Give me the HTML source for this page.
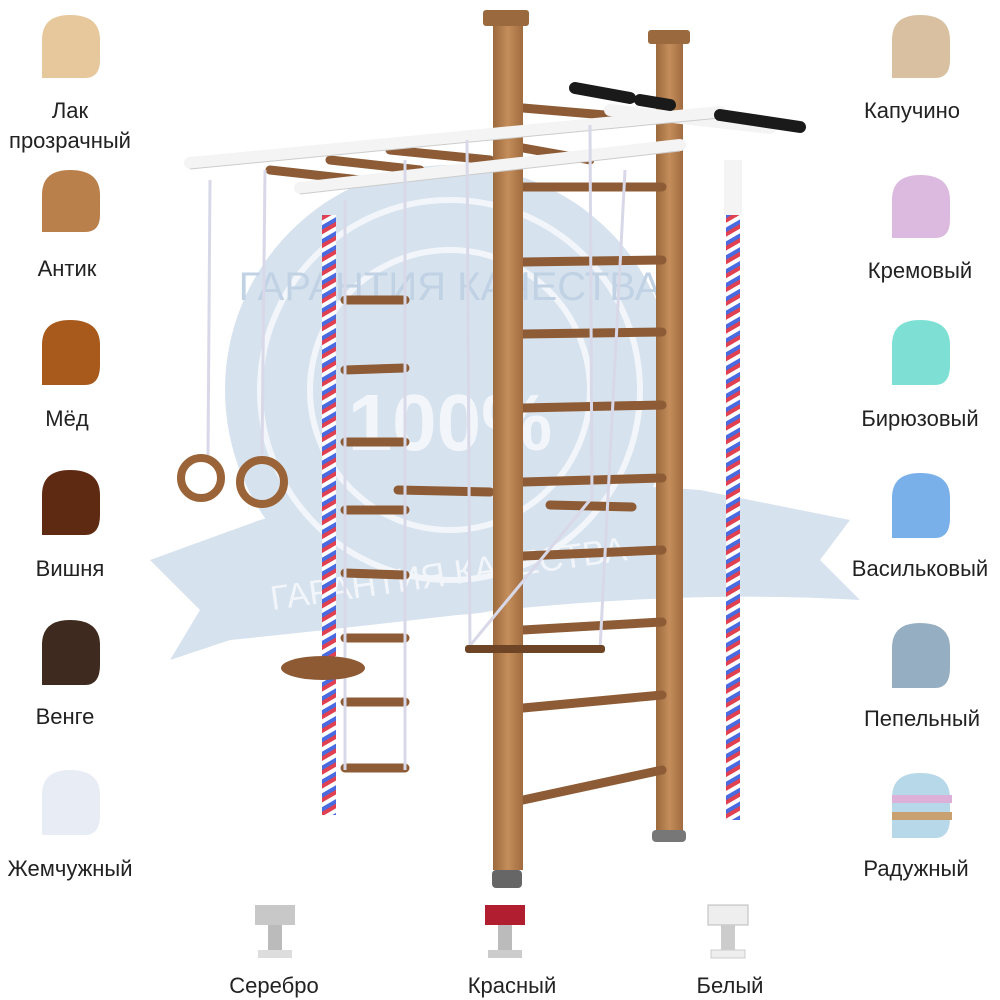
<!DOCTYPE html>
<html><head><meta charset="utf-8"><style>
body{margin:0;width:1000px;height:1000px;background:#fff;overflow:hidden;font-family:"Liberation Sans",sans-serif}
svg{position:absolute;left:0;top:0}
text{font-family:"Liberation Sans","DejaVu Sans",sans-serif;font-size:22px;fill:#222;text-anchor:middle}
</style></head><body>
<svg width="1000" height="1000" viewBox="0 0 1000 1000">
<defs>
<linearGradient id="wood" x1="0" x2="1"><stop offset="0" stop-color="#9c6a3e"/><stop offset=".5" stop-color="#c48d5a"/><stop offset="1" stop-color="#a06c40"/></linearGradient>
<pattern id="rope" width="8" height="12" patternUnits="userSpaceOnUse" patternTransform="rotate(-30)"><rect width="8" height="4" fill="#e04050"/><rect y="4" width="8" height="4" fill="#fff"/><rect y="8" width="8" height="4" fill="#4a6be0"/></pattern>
</defs>
<!-- watermark -->
<g fill="#d6e2ee">
<circle cx="450" cy="390" r="225"/>
<path d="M150 560 L260 520 Q450 470 700 490 L850 520 L820 560 L860 600 Q700 590 500 610 Q330 630 230 640 L170 660 L200 610 Z"/>
</g>
<g fill="none" stroke="#f2f6fa" stroke-width="6"><circle cx="450" cy="390" r="190"/><circle cx="450" cy="390" r="140"/></g>
<text x="450" y="450" style="font-size:80px;font-weight:bold;fill:#f2f6fa">100%</text>
<text x="450" y="300" style="font-size:40px;fill:#c0d2e4">ГАРАНТИЯ КАЧЕСТВА</text>
<text x="450" y="585" style="font-size:34px;fill:#f2f6fa" transform="rotate(-8 450 585)">ГАРАНТИЯ КАЧЕСТВА</text>

<!-- back post -->
<rect x="656" y="38" width="27" height="800" fill="url(#wood)"/>
<rect x="648" y="30" width="42" height="14" rx="3" fill="#9a6a3e"/>
<rect x="652" y="830" width="34" height="12" rx="4" fill="#777"/>
<!-- rungs -->
<g stroke="#8d5c36" stroke-width="9" stroke-linecap="round">
<line x1="523" y1="187" x2="662" y2="187"/><line x1="523" y1="262" x2="662" y2="260"/><line x1="523" y1="334" x2="662" y2="332"/><line x1="523" y1="408" x2="662" y2="405"/><line x1="523" y1="482" x2="662" y2="478"/><line x1="523" y1="556" x2="662" y2="550"/><line x1="523" y1="630" x2="662" y2="622"/><line x1="523" y1="708" x2="662" y2="695"/><line x1="523" y1="800" x2="662" y2="770"/>
<line x1="523" y1="108" x2="640" y2="118"/><line x1="523" y1="148" x2="590" y2="160"/>
<line x1="270" y1="170" x2="360" y2="180"/><line x1="330" y1="160" x2="420" y2="170"/><line x1="390" y1="150" x2="490" y2="160"/>
<line x1="345" y1="300" x2="405" y2="300"/><line x1="345" y1="370" x2="405" y2="368"/><line x1="345" y1="442" x2="405" y2="442"/><line x1="345" y1="510" x2="405" y2="510"/><line x1="345" y1="573" x2="405" y2="575"/><line x1="345" y1="638" x2="405" y2="638"/><line x1="345" y1="702" x2="405" y2="702"/><line x1="345" y1="768" x2="405" y2="768"/>
<line x1="398" y1="490" x2="490" y2="492"/><line x1="550" y1="505" x2="632" y2="507"/>
</g>
<!-- front post -->
<rect x="493" y="20" width="30" height="850" fill="url(#wood)"/>
<rect x="483" y="10" width="46" height="16" rx="3" fill="#9a6a3e"/>
<rect x="492" y="870" width="30" height="18" rx="4" fill="#666"/>
<!-- white bars -->
<g stroke="#f4f4f4" stroke-width="12" stroke-linecap="round">
<line x1="190" y1="163" x2="720" y2="112"/><line x1="300" y1="188" x2="680" y2="145"/>
<line x1="610" y1="110" x2="770" y2="128"/></g>
<g stroke="#ccc" stroke-width="1" fill="none"><line x1="190" y1="169" x2="720" y2="118"/><line x1="300" y1="194" x2="680" y2="151"/></g>
<g stroke="#1a1a1a" stroke-width="12" stroke-linecap="round"><line x1="575" y1="88" x2="630" y2="98"/><line x1="640" y1="100" x2="670" y2="105"/><line x1="720" y1="115" x2="800" y2="127"/></g>
<!-- ropes thin -->
<g stroke="#d8d8e8" stroke-width="3"><line x1="210" y1="180" x2="208" y2="455"/><line x1="265" y1="170" x2="262" y2="455"/><line x1="345" y1="200" x2="345" y2="770"/><line x1="405" y1="160" x2="405" y2="770"/><line x1="467" y1="140" x2="470" y2="650"/><line x1="590" y1="125" x2="592" y2="500"/><line x1="625" y1="170" x2="600" y2="650"/><line x1="590" y1="500" x2="468" y2="648"/></g>
<!-- thick ropes -->
<rect x="322" y="215" width="14" height="600" fill="url(#rope)"/>
<rect x="726" y="210" width="14" height="610" fill="url(#rope)"/>
<rect x="724" y="160" width="18" height="55" fill="#f4f4f4"/>
<!-- rings -->
<g fill="none" stroke="#9a6438" stroke-width="8"><circle cx="201" cy="478" r="20"/><circle cx="262" cy="482" r="22"/></g>
<!-- disc and swing -->
<ellipse cx="323" cy="668" rx="42" ry="12" fill="#8d5a34"/>
<rect x="465" y="645" width="140" height="8" rx="3" fill="#6e4426"/>
</svg>
<svg width="1000" height="1000">
<g>
<path d="M42 78 V40 Q42 15 70 15 Q100 15 100 40 V60 Q100 78 85 78 Z" fill="#e7c89c"/>
<path d="M42 232 V195 Q42 170 70 170 Q100 170 100 195 V215 Q100 232 85 232 Z" fill="#b9804c"/>
<path d="M42 385 V345 Q42 320 70 320 Q100 320 100 345 V365 Q100 385 85 385 Z" fill="#a75a1c"/>
<path d="M42 535 V495 Q42 470 70 470 Q100 470 100 495 V515 Q100 535 85 535 Z" fill="#5e2a12"/>
<path d="M42 685 V645 Q42 620 70 620 Q100 620 100 645 V665 Q100 685 85 685 Z" fill="#3e2a1e"/>
<path d="M42 835 V795 Q42 770 70 770 Q100 770 100 795 V815 Q100 835 85 835 Z" fill="#e8ecf4"/>
<path d="M892 78 V40 Q892 15 920 15 Q950 15 950 40 V60 Q950 78 935 78 Z" fill="#d9c0a0"/>
<path d="M892 238 V200 Q892 175 920 175 Q950 175 950 200 V220 Q950 238 935 238 Z" fill="#dcb9de"/>
<path d="M892 385 V345 Q892 320 920 320 Q950 320 950 345 V365 Q950 385 935 385 Z" fill="#7ee0d4"/>
<path d="M892 538 V498 Q892 473 920 473 Q950 473 950 498 V518 Q950 538 935 538 Z" fill="#7ab0ea"/>
<path d="M892 688 V648 Q892 623 920 623 Q950 623 950 648 V668 Q950 688 935 688 Z" fill="#96aec2"/>
<path d="M892 838 V798 Q892 773 920 773 Q950 773 950 798 V818 Q950 838 935 838 Z" fill="#b7d8e8"/>
<rect x="892" y="795" width="60" height="8" fill="#dcb0d8"/><rect x="892" y="812" width="60" height="8" fill="#c9a070"/>
</g>
<!-- brackets -->
<g><rect x="255" y="905" width="40" height="20" fill="#c8c8c8"/><rect x="268" y="925" width="14" height="30" fill="#bbb"/><rect x="258" y="950" width="34" height="8" fill="#ddd"/>
<rect x="485" y="905" width="40" height="20" fill="#b01e30"/><rect x="498" y="925" width="14" height="30" fill="#bbb"/><rect x="488" y="950" width="34" height="8" fill="#ccc"/>
<rect x="708" y="905" width="40" height="20" fill="#eee" stroke="#bbb"/><rect x="721" y="925" width="14" height="30" fill="#ccc"/><rect x="711" y="950" width="34" height="8" fill="#eee" stroke="#ccc"/></g>
<text x="70" y="118">Лак</text><text x="70" y="148">прозрачный</text>
<text x="67" y="276">Антик</text><text x="67" y="426">Мёд</text><text x="70" y="576">Вишня</text><text x="65" y="724">Венге</text><text x="70" y="876">Жемчужный</text>
<text x="912" y="118">Капучино</text><text x="920" y="278">Кремовый</text><text x="920" y="426">Бирюзовый</text><text x="920" y="576">Васильковый</text><text x="922" y="726">Пепельный</text><text x="916" y="876">Радужный</text>
<text x="274" y="993">Серебро</text><text x="512" y="993">Красный</text><text x="730" y="993">Белый</text>
</svg>
</body></html>
